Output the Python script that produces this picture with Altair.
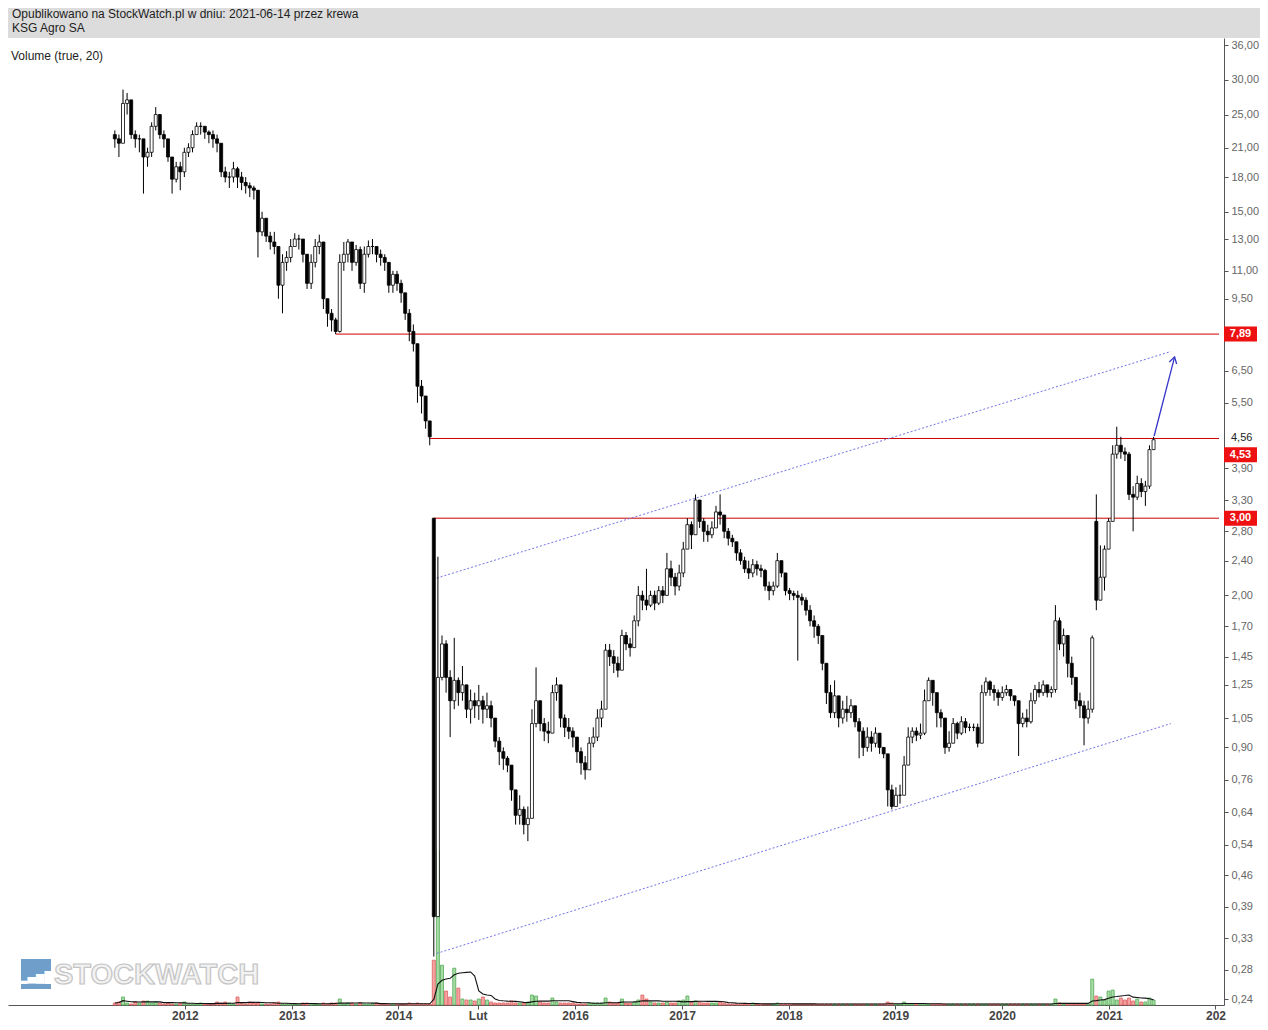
import altair as alt
import pandas as pd
import numpy as np

# ---------------- texts ----------------
HEADER_LINES = ["Opublikowano na StockWatch.pl w dniu: 2021-06-14 przez krewa", "KSG Agro SA"]
VOLUME_TEXT = "Volume (true, 20)"
WATERMARK = "STOCKWATCH"
WATERMARK_ICON = "▂▄▆█"

# ---------------- candles: segment 1 (2011-05 .. 2014-04), biweekly ----------------
S1_START = "2011-05-06"
S1_FIRST_OPEN = 22.5
s1_close = [22.0, 21.5, 26.5, 27.0, 22.5, 22.0, 22.0, 20.0, 20.5, 23.5,
            25.0, 22.5, 22.0, 20.0, 17.8, 19.0, 18.5, 20.5, 21.0, 22.5,
            23.5, 23.5, 22.8, 22.5, 22.0, 21.5, 18.5, 18.0, 18.0, 18.8,
            18.0, 17.5, 17.2, 17.0, 16.8, 13.5, 14.5, 13.2, 12.8, 12.5,
            10.2, 11.5, 11.8, 12.5, 13.0, 13.0, 12.0, 10.3, 11.5, 12.5,
            12.8, 9.5, 8.8, 8.5, 8.0, 11.5, 12.0, 12.8, 11.5, 12.3,
            10.3, 12.0, 12.5, 12.5, 12.0, 11.8, 11.5, 10.2, 10.8, 10.3,
            9.8, 8.8, 8.0, 7.5, 6.0, 5.7, 5.0, 4.6]
s1_high = [23.0, 22.5, 28.5, 28.0, 27.0, 23.0, 22.5, 22.0, 21.0, 24.0,
           26.0, 25.0, 23.0, 22.0, 20.0, 19.5, 19.5, 21.0, 21.5, 23.0,
           24.0, 24.0, 23.5, 23.0, 23.0, 22.5, 21.5, 19.0, 18.5, 19.5,
           19.0, 18.5, 18.0, 17.5, 17.2, 16.8, 15.0, 14.5, 13.5, 13.5,
           12.5, 12.0, 12.2, 13.0, 13.4, 13.3, 13.0, 12.0, 12.0, 13.0,
           13.3, 12.5, 9.5, 9.0, 8.6, 12.0, 12.8, 13.0, 12.8, 12.6,
           12.5, 12.5, 12.9, 13.0, 12.5, 12.3, 12.0, 11.5, 11.0, 11.0,
           10.5, 9.6, 9.0, 8.3, 7.0, 6.2, 5.5, 4.9]
s1_low = [21.0, 20.0, 21.5, 25.0, 22.0, 21.0, 20.5, 16.5, 19.0, 20.0,
          23.0, 22.0, 21.0, 19.5, 16.5, 17.5, 16.8, 18.0, 20.0, 20.5,
          22.5, 22.5, 22.0, 21.5, 21.0, 20.5, 18.0, 17.5, 17.0, 17.5,
          17.0, 16.8, 16.5, 16.2, 16.0, 11.8, 13.2, 12.8, 12.3, 12.0,
          9.5, 8.8, 11.0, 11.5, 12.5, 12.3, 11.5, 10.0, 10.0, 11.2,
          12.0, 9.0, 8.2, 8.0, 7.89, 7.95, 11.0, 11.5, 11.0, 11.3,
          10.0, 9.8, 11.8, 12.0, 11.5, 11.3, 11.0, 9.8, 9.8, 9.9,
          9.3, 8.5, 7.6, 7.2, 5.5, 5.2, 4.8, 4.4]
s1_vol = [2, 3, 8, 2, 1, 3, 2, 4, 4, 2, 3, 2, 1, 2, 1, 1, 2, 3, 1, 1,
          1, 2, 1, 1, 1, 3, 2, 3, 2, 1, 8, 2, 1, 3, 2, 2, 1, 1, 1, 2,
          3, 1, 1, 1, 1, 1, 2, 2, 1, 1, 1, 2, 1, 2, 2, 6, 1, 2, 2, 1,
          2, 1, 1, 1, 2, 1, 1, 1, 1, 1, 1, 1, 2, 1, 2, 1, 1, 1]

# ---------------- candles: segment 2 (2014-09 .. 2021-06), biweekly ----------------
S2_START = "2014-09-04"
s2_open_override = {0: 3.00, 162: 2.95}
s2_close = [0.37, 1.30, 1.55, 1.30, 1.15, 1.28, 1.20, 1.25, 1.10, 1.15,
            1.12, 1.15, 1.10, 1.12, 1.05, 0.93, 0.88, 0.85, 0.82, 0.72,
            0.63, 0.65, 0.60, 0.62, 1.02, 1.15, 1.02, 0.98, 0.97, 1.20,
            1.25, 1.05, 1.00, 0.98, 0.95, 0.88, 0.83, 0.80, 0.92, 0.95,
            1.05, 1.10, 1.50, 1.45, 1.40, 1.35, 1.62, 1.55, 1.52, 1.75,
            2.00, 1.95, 1.90, 2.00, 1.92, 2.05, 2.00, 2.30, 2.20, 2.10,
            2.25, 2.55, 2.90, 2.75, 3.30, 2.95, 2.80, 2.75, 2.85, 3.10,
            3.05, 2.80, 2.70, 2.65, 2.50, 2.40, 2.30, 2.25, 2.35, 2.30,
            2.28, 2.10, 2.05, 2.10, 2.40, 2.25, 2.05, 2.02, 2.00, 1.98,
            1.95, 1.85, 1.75, 1.70, 1.62, 1.40, 1.20, 1.08, 1.18, 1.05,
            1.10, 1.08, 1.12, 1.03, 0.98, 0.90, 0.95, 0.92, 0.97, 0.90,
            0.87, 0.72, 0.66, 0.70, 0.70, 0.82, 0.95, 0.98, 0.96, 0.97,
            1.15, 1.28, 1.20, 1.08, 1.05, 0.90, 0.92, 1.02, 0.97, 1.03,
            1.00, 1.00, 1.00, 0.92, 1.20, 1.27, 1.22, 1.20, 1.17, 1.20,
            1.22, 1.18, 1.15, 1.02, 1.05, 1.03, 1.15, 1.22, 1.20, 1.25,
            1.20, 1.22, 1.75, 1.55, 1.62, 1.40, 1.30, 1.15, 1.12, 1.05,
            1.10, 1.60, 1.95, 2.20, 2.55, 2.95, 4.20, 4.40, 4.25, 4.20,
            3.40, 3.35, 3.60, 3.45, 3.55, 4.30, 4.53]
s2_high = [3.00, 2.45, 1.62, 1.58, 1.35, 1.60, 1.30, 1.38, 1.25, 1.22,
           1.20, 1.25, 1.18, 1.20, 1.15, 1.05, 0.95, 0.90, 0.86, 0.82,
           0.72, 0.70, 0.66, 0.66, 1.10, 1.37, 1.15, 1.05, 1.03, 1.25,
           1.30, 1.25, 1.07, 1.05, 1.00, 0.95, 0.90, 0.86, 0.95, 1.00,
           1.10, 1.15, 1.55, 1.55, 1.50, 1.45, 1.67, 1.65, 1.60, 1.80,
           2.10, 2.05, 2.30, 2.05, 2.05, 2.10, 2.10, 2.50, 2.40, 2.25,
           2.35, 2.65, 3.00, 2.95, 3.40, 3.20, 3.00, 2.90, 2.95, 3.20,
           3.40, 3.05, 2.85, 2.75, 2.65, 2.55, 2.45, 2.40, 2.42, 2.40,
           2.35, 2.30, 2.15, 2.15, 2.50, 2.40, 2.25, 2.08, 2.05, 2.05,
           2.02, 1.98, 1.90, 1.80, 1.72, 1.60, 1.40, 1.25, 1.28, 1.18,
           1.15, 1.18, 1.16, 1.12, 1.05, 1.00, 1.00, 0.98, 1.00, 0.97,
           0.90, 0.80, 0.74, 0.73, 0.74, 0.86, 1.00, 1.00, 1.00, 1.02,
           1.22, 1.30, 1.28, 1.15, 1.10, 1.00, 0.98, 1.05, 1.03, 1.06,
           1.05, 1.02, 1.02, 1.02, 1.25, 1.30, 1.28, 1.25, 1.22, 1.24,
           1.25, 1.22, 1.18, 1.08, 1.08, 1.10, 1.20, 1.25, 1.27, 1.28,
           1.25, 1.24, 1.90, 1.78, 1.68, 1.60, 1.45, 1.28, 1.20, 1.15,
           1.15, 1.62, 3.40, 2.60, 2.60, 3.00, 4.40, 4.85, 4.60, 4.35,
           4.25, 3.55, 3.75, 3.70, 3.65, 4.40, 4.60]
s2_low = [0.30, 0.37, 1.28, 1.20, 0.95, 1.10, 1.12, 1.15, 1.05, 1.02,
          1.05, 1.04, 1.02, 1.05, 1.00, 0.90, 0.82, 0.80, 0.79, 0.68,
          0.60, 0.60, 0.57, 0.55, 0.62, 1.00, 0.98, 0.93, 0.92, 0.97,
          1.15, 1.00, 0.95, 0.94, 0.90, 0.83, 0.78, 0.76, 0.80, 0.90,
          0.93, 1.00, 1.10, 1.38, 1.33, 1.30, 1.35, 1.50, 1.45, 1.52,
          1.70, 1.85, 1.85, 1.88, 1.85, 1.90, 1.92, 2.00, 2.10, 2.00,
          2.05, 2.20, 2.55, 2.55, 2.75, 2.85, 2.65, 2.65, 2.70, 2.85,
          2.90, 2.70, 2.60, 2.58, 2.40, 2.35, 2.25, 2.18, 2.20, 2.22,
          2.20, 2.05, 1.95, 2.00, 2.08, 2.20, 2.00, 1.95, 1.95, 1.42,
          1.90, 1.80, 1.70, 1.60, 1.55, 1.35, 1.13, 1.05, 1.05, 1.00,
          1.02, 1.03, 1.05, 1.00, 0.85, 0.86, 0.88, 0.88, 0.90, 0.87,
          0.85, 0.66, 0.65, 0.66, 0.67, 0.70, 0.82, 0.92, 0.93, 0.94,
          0.96, 1.15, 1.12, 1.00, 1.00, 0.87, 0.88, 0.92, 0.94, 0.96,
          0.97, 0.98, 0.98, 0.90, 0.98, 1.18, 1.18, 1.15, 1.12, 1.15,
          1.18, 1.15, 1.12, 0.86, 1.00, 1.00, 1.02, 1.13, 1.17, 1.18,
          1.17, 1.17, 1.20, 1.50, 1.45, 1.30, 1.25, 1.10, 1.05, 0.91,
          1.02, 1.08, 1.85, 1.95, 2.05, 2.55, 2.95, 4.10, 4.10, 4.05,
          3.30, 2.80, 3.30, 3.35, 3.20, 3.50, 4.30]
s2_vol = [45, 155, 40, 14, 8, 37, 17, 6, 5, 5,
          4, 6, 8, 5, 3, 2, 2, 2, 2, 4,
          2, 2, 2, 3, 10, 9, 3, 2, 2, 7,
          3, 2, 2, 2, 2, 1, 1, 1, 2, 2,
          2, 2, 7, 3, 2, 2, 6, 2, 2, 3,
          5, 10, 6, 3, 2, 2, 2, 3, 2, 2,
          4, 5, 9, 3, 4, 3, 2, 2, 2, 2,
          3, 2, 1, 1, 1, 1, 1, 1, 2, 1,
          1, 1, 1, 1, 2, 1, 1, 1, 1, 1,
          1, 1, 1, 1, 1, 1, 1, 1, 1, 1,
          1, 1, 1, 1, 1, 1, 1, 1, 1, 1,
          1, 3, 2, 1, 1, 3, 1, 1, 1, 1,
          1, 1, 1, 1, 1, 1, 1, 1, 1, 1,
          1, 1, 1, 1, 1, 1, 1, 1, 1, 1,
          1, 1, 1, 1, 1, 1, 1, 1, 1, 1,
          1, 1, 6, 2, 1, 1, 1, 1, 1, 1,
          1, 26, 9, 8, 5, 14, 15, 5, 7, 5,
          7, 4, 6, 3, 3, 7, 5]
VOL_MA_BARS = 10  # 20 weeks of biweekly bars

# ---------------- axes ----------------
X_TICK_DATES = ["2012-01-01", "2013-01-01", "2014-01-01", "2015-02-01", "2016-01-01",
                "2017-01-01", "2018-01-01", "2019-01-01", "2020-01-01", "2021-01-01", "2022-01-01"]
X_TICK_LABELS = ["2012", "2013", "2014", "Lut", "2016", "2017", "2018", "2019", "2020", "2021", "202"]
Y_TICKS = [36, 30, 25, 21, 18, 15, 13, 11, 9.5, 6.5, 5.5, 3.9, 3.3, 2.8, 2.4, 2.0, 1.7,
           1.45, 1.25, 1.05, 0.9, 0.76, 0.64, 0.54, 0.46, 0.39, 0.33, 0.28, 0.24]

# ---------------- annotations ----------------
hline_price = [7.89, 4.56, 3.00]
hline_start = ["2013-05-31", "2014-04-18", "2014-09-04"]
trend_id = ["upper", "upper", "lower", "lower"]
trend_date = ["2014-09-14", "2021-08-01", "2014-09-14", "2021-08-01"]
trend_price = [2.19, 7.2, 0.305, 1.02]
arrow_date = ["2021-06-05", "2021-08-14"]
arrow_price = [4.62, 7.0]
red_labels = ["7,89", "3,00"]
red_label_price = [7.89, 3.00]
last_label = "4,53"
last_price = 4.53
black_label = "4,56"
black_label_price = 4.56

# ---------------- build table ----------------
d1 = pd.date_range(S1_START, periods=len(s1_close), freq="14D")
d2 = pd.date_range(S2_START, periods=len(s2_close), freq="14D")
dates = d1.append(d2)

o1 = [S1_FIRST_OPEN] + s1_close[:-1]
o2 = [None] + s2_close[:-1]
for k, v in s2_open_override.items():
    o2[k] = v

df = pd.DataFrame({
    "date": dates,
    "open": o1 + o2,
    "high": s1_high + s2_high,
    "low": s1_low + s2_low,
    "close": s1_close + s2_close,
    "vol": s1_vol + s2_vol,
})
df["n"] = np.arange(len(df))
df["high"] = df[["high", "open", "close"]].max(axis=1)
df["low"] = df[["low", "open", "close"]].min(axis=1)
df["up"] = df["close"] >= df["open"]
df["ma"] = df["vol"].rolling(VOL_MA_BARS, min_periods=1).mean()
df["date"] = df["date"].dt.strftime("%Y-%m-%d")

ords = np.array([d.toordinal() for d in dates])
idx = np.arange(len(ords), dtype=float)


def pos(d):
    o = pd.Timestamp(d).toordinal()
    if o <= ords[0]:
        return (o - ords[0]) / 14.0
    if o >= ords[-1]:
        return idx[-1] + (o - ords[-1]) / 14.0
    return float(np.interp(o, ords, idx))


# ---------------- layout ----------------
W = 1216
H = 967
HEADER_W = 1252
HEADER_H = 30
X_DOMAIN = [-24.9, 270.0]
Y_DOMAIN = [0.2326, 37.37]
FONT = "Liberation Sans"

tick_pos = [round(pos(d), 4) for d in X_TICK_DATES]
label_expr = "''"
for p, lab in reversed(list(zip(tick_pos, X_TICK_LABELS))):
    label_expr = f"abs(datum.value - {p}) < 0.01 ? '{lab}' : ({label_expr})"

XSCALE = alt.Scale(domain=X_DOMAIN, nice=False, zero=False)
XAXIS = alt.Axis(values=tick_pos, labelExpr=label_expr, title=None, grid=False,
                 domainColor="#555555", tickColor="#555555", tickSize=4,
                 labelFontSize=12, labelFontWeight="bold", labelColor="#444444",
                 labelFont=FONT, labelPadding=1, labelOverlap=False, labelFlush=False)
YSCALE = alt.Scale(type="log", domain=Y_DOMAIN, nice=False, zero=False)
YAXIS = alt.Axis(orient="right", values=Y_TICKS,
                 labelExpr="replace(format(datum.value, '.2f'), '.', ',')",
                 title=None, grid=False, domainColor="#555555", tickColor="#555555",
                 tickSize=4, labelColor="#666666", labelFontSize=11, labelFont=FONT,
                 labelPadding=3, labelOverlap=False, labelBound=False)
VSCALE = alt.Scale(domain=[0, 972], nice=False, zero=True)


def X(field="n"):
    return alt.X(f"{field}:Q", scale=XSCALE, axis=XAXIS)


def YP(field):
    return alt.Y(f"{field}:Q", scale=YSCALE, axis=None)


base = alt.Chart(df)

vol = base.mark_bar(width=3, strokeWidth=0.8).encode(
    x=X(),
    y=alt.Y("vol:Q", scale=VSCALE, axis=None),
    fill=alt.condition("datum.up", alt.value("#a6dca6"), alt.value("#f5a3a3")),
    stroke=alt.condition("datum.up", alt.value("#55aa55"), alt.value("#e06060")),
)
ma = base.mark_line(color="#111111", strokeWidth=1.1).encode(
    x=X(), y=alt.Y("ma:Q", scale=VSCALE, axis=None)
)

hl = pd.DataFrame({"price": hline_price,
                   "start": [pos(d) for d in hline_start],
                   "end": [X_DOMAIN[1]] * len(hline_price)})
hlines = alt.Chart(hl).mark_rule(color="#cc0000", strokeWidth=1).encode(
    x=X("start"), x2="end:Q", y=YP("price")
)

tr = pd.DataFrame({"id": trend_id, "n": [pos(d) for d in trend_date], "price": trend_price})
trends = alt.Chart(tr).mark_line(color="#7373e6", strokeWidth=1, strokeDash=[2, 2]).encode(
    x=X(), y=YP("price"), detail="id:N"
)

wicks = base.mark_rule(color="black", strokeWidth=1).encode(
    x=X(), y=alt.Y("low:Q", scale=YSCALE, axis=YAXIS), y2="high:Q"
)
bodies = base.mark_bar(width=3, stroke="black", strokeWidth=0.8).encode(
    x=X(), y=YP("open"), y2="close:Q",
    fill=alt.condition("datum.close >= datum.open", alt.value("white"), alt.value("black")),
)

ar = pd.DataFrame({"n": [pos(d) for d in arrow_date], "price": arrow_price})
arrow_line = alt.Chart(ar).mark_line(color="#3535c8", strokeWidth=1.3).encode(
    x=X(), y=YP("price")
)
arrow_head = alt.Chart(ar.iloc[[1]]).mark_point(
    shape="M -0.6 1 L 0 0 L 0.6 1", filled=False, color="#3535c8",
    strokeWidth=1.3, size=160, angle=15, opacity=1
).encode(x=X(), y=YP("price"))

rl = pd.DataFrame({"label": red_labels, "price": red_label_price})
red_boxes = alt.Chart(rl).mark_tick(orient="horizontal", color="#ee1111", thickness=15,
                                    size=33, opacity=1).encode(
    x=alt.value(W + 16.5), y=YP("price"))
red_texts = alt.Chart(rl).mark_text(color="white", fontSize=11, fontWeight="bold",
                                    font=FONT, align="center", baseline="middle").encode(
    x=alt.value(W + 16.5), y=YP("price"), text="label:N")

ll = pd.DataFrame({"label": [last_label], "price": [last_price]})
last_box = alt.Chart(ll).mark_tick(orient="horizontal", color="#ee1111", thickness=15,
                                   size=33, opacity=1, yOffset=15).encode(
    x=alt.value(W + 16.5), y=YP("price"))
last_text = alt.Chart(ll).mark_text(color="white", fontSize=11, fontWeight="bold",
                                    font=FONT, align="center", baseline="middle",
                                    yOffset=15).encode(
    x=alt.value(W + 16.5), y=YP("price"), text="label:N")

bl = pd.DataFrame({"label": [black_label], "price": [black_label_price]})
black_text = alt.Chart(bl).mark_text(color="#222222", fontSize=11, font=FONT,
                                     align="left", baseline="middle").encode(
    x=alt.value(W + 7), y=YP("price"), text="label:N")

wm = pd.DataFrame({"t": [WATERMARK], "icon": [WATERMARK_ICON]})
wm_icon = alt.Chart(wm).mark_square(size=900, color="#5f93c4", opacity=0.9).encode(
    x=alt.value(28), y=alt.value(936))
wm_bars = alt.Chart(wm).mark_text(fontSize=11, color="white", font="DejaVu Sans",
                                  align="center", baseline="middle").encode(
    x=alt.value(28), y=alt.value(940), text="icon:N")
wm_text = alt.Chart(wm).mark_text(
    font=FONT, fontSize=29, fontWeight="bold", color="#f2f2f2", stroke="#c4c4c4",
    strokeWidth=1.2, align="left", baseline="middle").encode(
    x=alt.value(46), y=alt.value(937), text="t:N")

vt = pd.DataFrame({"t": [VOLUME_TEXT]})
vol_text = alt.Chart(vt).mark_text(fontSize=12, font=FONT, color="#222222",
                                   align="left", baseline="middle").encode(
    x=alt.value(3), y=alt.value(18), text="t:N")

main = alt.layer(
    vol, ma, hlines, trends, wicks, bodies, arrow_line, arrow_head,
    red_boxes, red_texts, last_box, last_text, black_text,
    wm_icon, wm_bars, wm_text, vol_text
).resolve_scale(y="independent").properties(width=W, height=H)

hd = pd.DataFrame({"t": HEADER_LINES, "row": [0, 1]})
header = alt.Chart(hd).mark_text(fontSize=12, font=FONT, color="#222222",
                                 align="left", baseline="middle").encode(
    x=alt.value(4),
    y=alt.Y("row:Q", scale=alt.Scale(domain=[0, 1], range=[6, 20]), axis=None),
    text="t:N",
).properties(width=HEADER_W, height=HEADER_H, view=alt.ViewBackground(fill="#dcdcdc"))

chart = alt.vconcat(header, main, spacing=0, padding=0, background="white").configure_view(
    strokeWidth=0
)

chart.save("out.html", embed_options={"renderer": "svg", "actions": False})
